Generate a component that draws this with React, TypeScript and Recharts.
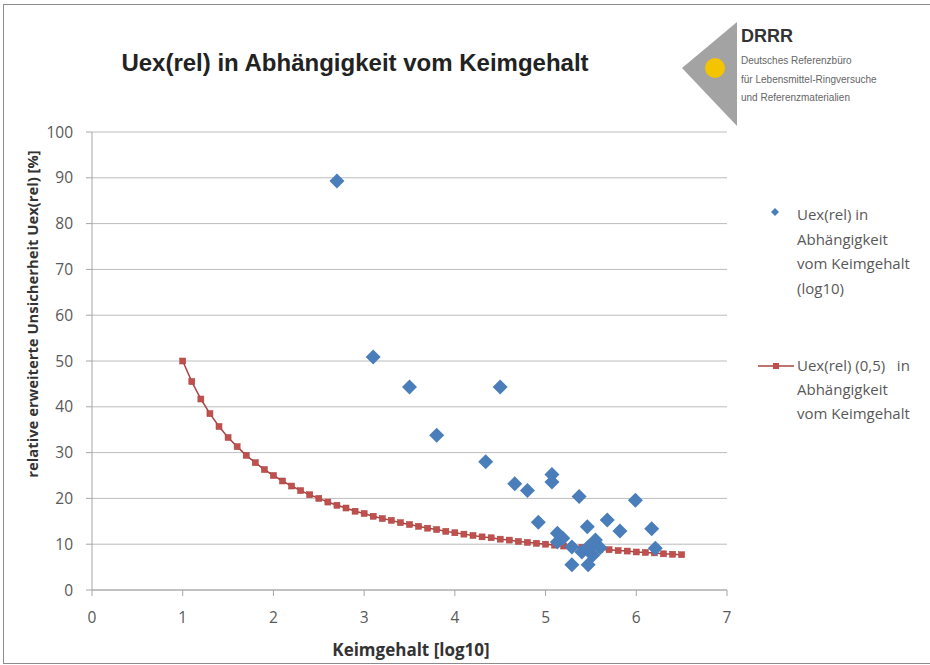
import React from 'react';
import { ScatterChart, Scatter, XAxis, YAxis, CartesianGrid } from 'recharts';

// Uex(rel) je Probe, x = Keimgehalt [log10]
const keimX = [
  2.7, 3.1, 3.5, 4.5, 3.8, 4.34, 4.66, 4.8, 5.07, 5.07, 5.37, 5.99, 4.92,
  5.13, 5.19, 5.13, 5.29, 5.46, 5.68, 5.82, 5.55, 5.47, 5.6, 5.4, 5.29,
  5.47, 5.52, 6.17, 6.21,
];
const uexY = [
  89.3, 50.9, 44.3, 44.3, 33.8, 28.0, 23.2, 21.7, 25.2, 23.6, 20.4, 19.6, 14.8,
  12.4, 11.3, 10.5, 9.4, 13.8, 15.3, 12.9, 10.9, 9.4, 9.2, 8.3, 5.5,
  5.5, 7.6, 13.4, 9.1,
];

// Kurve Uex(rel) (0,5)
const kurveX = [
  1.0, 1.1, 1.2, 1.3, 1.4, 1.5, 1.6, 1.7, 1.8, 1.9, 2.0, 2.1, 2.2, 2.3, 2.4,
  2.5, 2.6, 2.7, 2.8, 2.9, 3.0, 3.1, 3.2, 3.3, 3.4, 3.5, 3.6, 3.7, 3.8, 3.9,
  4.0, 4.1, 4.2, 4.3, 4.4, 4.5, 4.6, 4.7, 4.8, 4.9, 5.0, 5.1, 5.2, 5.3, 5.4,
  5.5, 5.6, 5.7, 5.8, 5.9, 6.0, 6.1, 6.2, 6.3, 6.4, 6.5,
];
const kurveY = [
  50.0, 45.5, 41.7, 38.5, 35.7, 33.3, 31.3, 29.4, 27.8, 26.3, 25.0, 23.8, 22.7,
  21.7, 20.8, 20.0, 19.2, 18.5, 17.9, 17.2, 16.7, 16.1, 15.6, 15.2, 14.7, 14.3,
  13.9, 13.5, 13.2, 12.8, 12.5, 12.2, 11.9, 11.6, 11.4, 11.1, 10.9, 10.6, 10.4,
  10.2, 10.0, 9.8, 9.6, 9.4, 9.3, 9.1, 8.9, 8.8, 8.6, 8.5, 8.3, 8.2, 8.1, 7.9,
  7.8, 7.7,
];

const xTicks = [0, 1, 2, 3, 4, 5, 6, 7];
const yTicks = [0, 10, 20, 30, 40, 50, 60, 70, 80, 90, 100];

const punkte = keimX.map((x, i) => ({ x, y: uexY[i] }));
const kurve = kurveX.map((x, i) => ({ x, y: kurveY[i] }));

const BLUE = '#4a7ebb';
const RED = '#c0504d';
const TXT = '#595959';
const FONT = '"Open Sans", sans-serif';
const ARIAL = "'Liberation Sans', Arial, sans-serif";

function Diamond(props: any) {
  const { cx, cy } = props;
  const r = 7.5;
  return <polygon points={`${cx},${cy - r} ${cx + r},${cy} ${cx},${cy + r} ${cx - r},${cy}`} fill={BLUE} />;
}

function Square(props: any) {
  const { cx, cy } = props;
  return <rect x={cx - 3} y={cy - 3} width={6} height={6} fill={RED} stroke="#a8403d" strokeWidth={0.5} />;
}

export default function App() {
  const tick = { fontSize: 15.5, fill: TXT, fontFamily: FONT };
  return (
    <div style={{ position: 'absolute', left: 0, top: 0, width: 930, height: 665, background: '#fff', overflow: 'hidden' }}>
      <div style={{ position: 'absolute', left: 3, top: 4, width: 940, height: 658, border: '1px solid #8c8c8c' }} />
      <ScatterChart width={930} height={665} margin={{ top: 132, right: 203, bottom: 45, left: 0 }}>
        <CartesianGrid horizontal vertical={false} stroke="#bcbcbc" />
        <XAxis
          type="number"
          dataKey="x"
          domain={[0, 7]}
          ticks={xTicks}
          height={30}
          tick={tick}
          tickSize={6}
          tickMargin={16}
          stroke="#a6a6a6"
        />
        <YAxis
          type="number"
          dataKey="y"
          domain={[0, 100]}
          ticks={yTicks}
          width={92}
          tick={tick}
          tickSize={6}
          tickMargin={13}
          stroke="#a6a6a6"
        />
        <Scatter
          data={kurve}
          shape={<Square />}
          line={{ stroke: '#a94542', strokeWidth: 1.5 }}
          lineType="joint"
          isAnimationActive={false}
        />
        <Scatter data={punkte} shape={<Diamond />} isAnimationActive={false} />
      </ScatterChart>

      <svg width={930} height={665} style={{ position: 'absolute', left: 0, top: 0, pointerEvents: 'none' }}>
        <text x={355} y={71} textAnchor="middle" fontFamily={ARIAL} fontWeight="bold" fontSize={24} fill="#222">
          Uex(rel) in Abhängigkeit vom Keimgehalt
        </text>

        {/* Logo */}
        <polygon points="682,68 737,22 737,126" fill="#a3a3a3" />
        <circle cx={715} cy={68} r={10} fill="#f5c400" />
        <text x={741} y={42} fontFamily={ARIAL} fontWeight="bold" fontSize={18} fill="#333">DRRR</text>
        <text x={741} y={64} fontFamily={ARIAL} fontSize={10} fill="#666">Deutsches Referenzbüro</text>
        <text x={741} y={83} fontFamily={ARIAL} fontSize={10} fill="#666">für Lebensmittel-Ringversuche</text>
        <text x={741} y={101} fontFamily={ARIAL} fontSize={10} fill="#666">und Referenzmaterialien</text>

        {/* Achsentitel */}
        <text x={411} y={656} textAnchor="middle" fontFamily={FONT} fontWeight="bold" fontSize={17} fill="#333">
          Keimgehalt [log10]
        </text>
        <text
          x={0}
          y={0}
          transform="translate(38,314) rotate(-90)"
          textAnchor="middle"
          fontFamily={FONT}
          fontWeight="bold"
          fontSize={14.8}
          fill="#333"
        >
          relative erweiterte Unsicherheit Uex(rel) [%]
        </text>

        {/* Legende */}
        <polygon points="775,208 779,212 775,216 771,212" fill={BLUE} />
        <g fontFamily={FONT} fontSize={15} fill={TXT}>
          <text x={797} y={220}>Uex(rel) in</text>
          <text x={797} y={245}>Abhängigkeit</text>
          <text x={797} y={269}>vom Keimgehalt</text>
          <text x={797} y={294}>(log10)</text>
        </g>
        <line x1={758} y1={366} x2={794} y2={366} stroke="#a94542" strokeWidth={1.5} />
        <rect x={773} y={363} width={6} height={6} fill={RED} />
        <g fontFamily={FONT} fontSize={15} fill={TXT}>
          <text x={797} y={371} style={{ whiteSpace: 'pre' }}>Uex(rel) (0,5)   in</text>
          <text x={797} y={395}>Abhängigkeit</text>
          <text x={797} y={419}>vom Keimgehalt</text>
        </g>
      </svg>
    </div>
  );
}
